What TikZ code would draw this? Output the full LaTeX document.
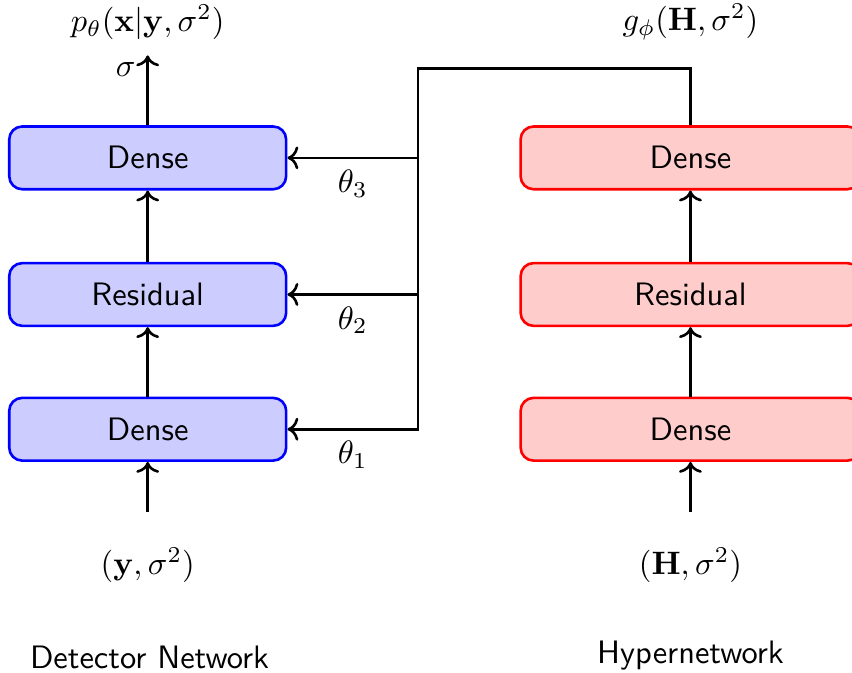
\documentclass[tikz,border=0pt]{standalone}
\usepackage{amsmath,amssymb}
\usepackage{xcolor}
\usepackage{tikz}
\usetikzlibrary{arrows.meta,positioning,calc}
\tikzset{
  dbox/.style={draw=blue,fill=blue!20,thick,rounded corners=4pt,minimum width=3cm,minimum height=0.68cm,font=\sffamily},
  hbox/.style={draw=red,fill=red!20,thick,rounded corners=4pt,minimum width=3.68cm,minimum height=0.68cm,font=\sffamily},
  arr/.style={->,thick},
}

\begin{document}
\begin{tikzpicture}
\useasboundingbox (0,0) rectangle (9.23,-7.29);
% detector network
\node[dbox] (d1) at (1.6,-4.65) {Dense};
\node[dbox] (d2) at (1.6,-3.19) {Residual};
\node[dbox] (d3) at (1.6,-1.71) {Dense};
% hypernetwork
\node[hbox] (h1) at (7.48,-4.65) {Dense};
\node[hbox] (h2) at (7.48,-3.19) {Residual};
\node[hbox] (h3) at (7.48,-1.71) {Dense};
% inputs, outputs, titles
\node (yin) at (1.6,-6.12) {$(\mathbf{y},\sigma^2)$};
\node (hin) at (7.48,-6.12) {$(\mathbf{H},\sigma^2)$};
\coordinate (dout) at (1.6,-0.6);
\node (pout) at (1.6,-0.24) {$p_\theta(\mathbf{x}|\mathbf{y},\sigma^2)$};
\node (gout) at (7.48,-0.24) {$g_\phi(\mathbf{H},\sigma^2)$};
\node[font=\sffamily] (dname) at (1.62,-7.12) {Detector Network};
\node[font=\sffamily] (hname) at (7.48,-7.10) {Hypernetwork};
\draw[arr] ([yshift=0.26cm]yin.north) -- (d1);
\draw[arr] ([yshift=0.26cm]hin.north) -- (h1);
\draw[arr] (d1) -- (d2); \draw[arr] (d2) -- (d3);
\draw[arr] (h1) -- (h2); \draw[arr] (h2) -- (h3);
\draw[arr] (d3) -- node[pos=0.8,left] {$\sigma$} (dout);
% weights from the hypernetwork
\coordinate (bus) at (4.53,-0.74);
\draw[arr] (h3.north) |- (bus) -- (bus |- d1.east) -- node[below] {$\theta_1$} (d1.east);
\foreach \i in {2,3} \draw[arr] (bus |- d\i.east) -- node[below] {$\theta_\i$} (d\i.east);
\end{tikzpicture}
\end{document}
